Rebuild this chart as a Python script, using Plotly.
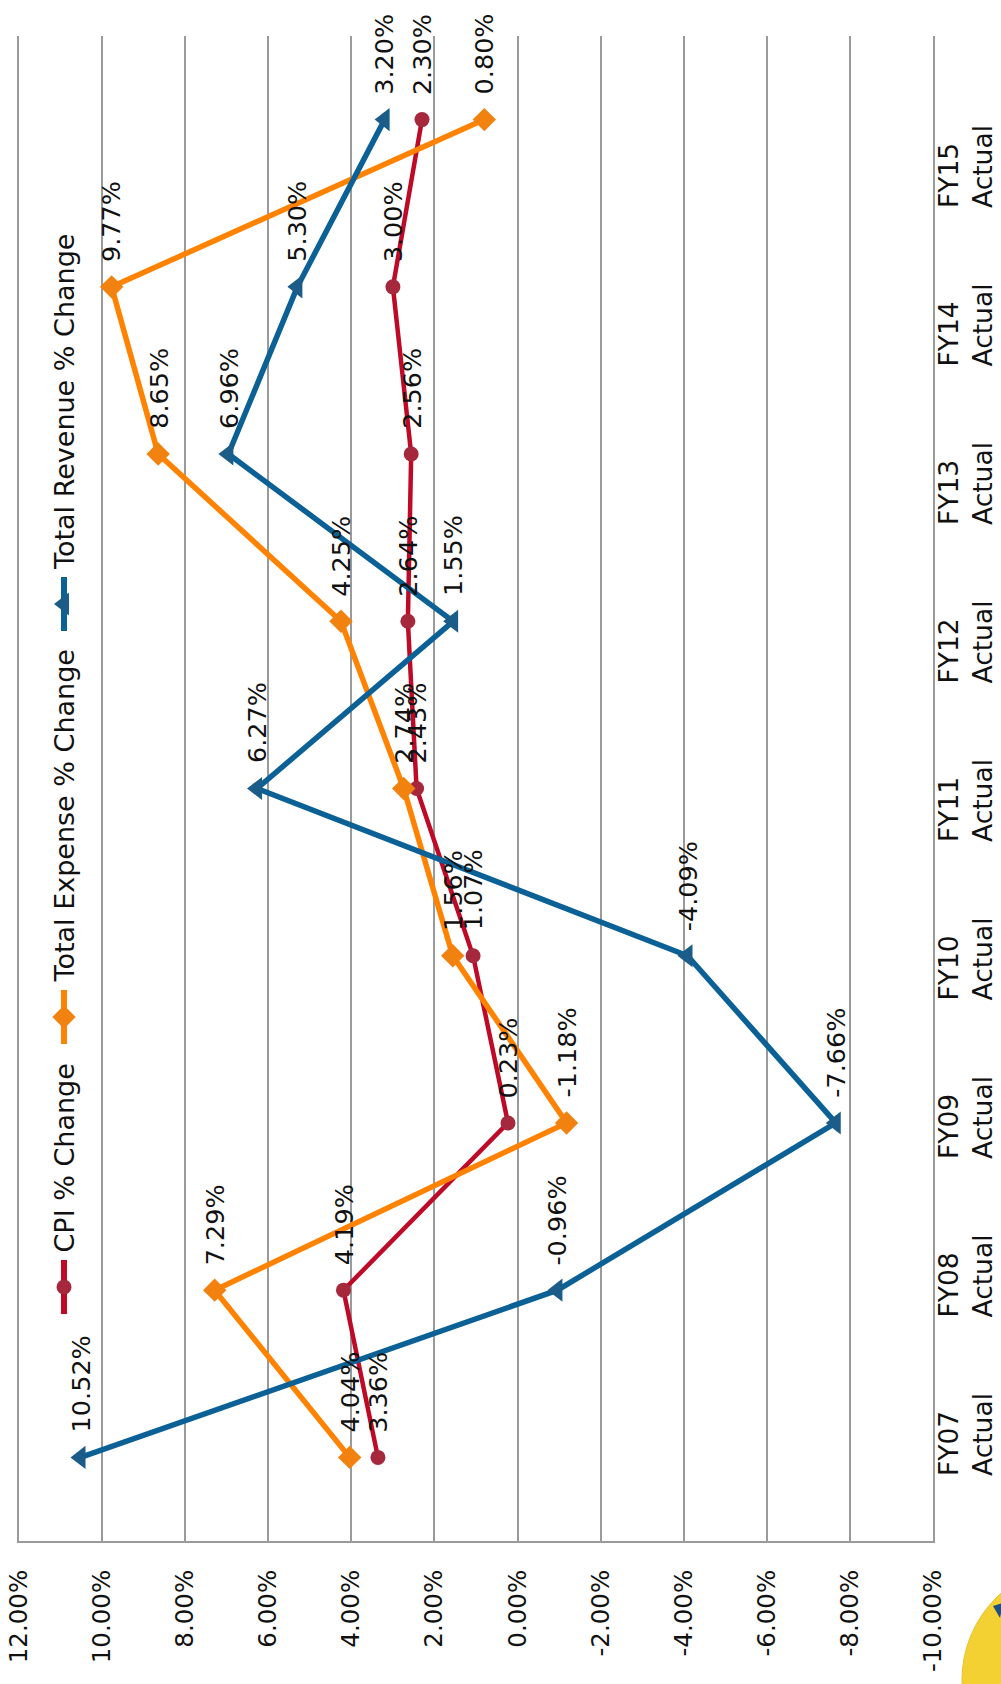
import plotly.graph_objects as go

# Fiscal years (categories, bottom to top) and the three % change series
fiscal_years = ["FY07", "FY08", "FY09", "FY10", "FY11", "FY12", "FY13", "FY14", "FY15"]
category_labels = [f"{fy}<br>Actual" for fy in fiscal_years]

cpi_change = [3.36, 4.19, 0.23, 1.07, 2.43, 2.64, 2.56, 3.00, 2.30]
expense_change = [4.04, 7.29, -1.18, 1.56, 2.74, 4.25, 8.65, 9.77, 0.80]
revenue_change = [10.52, -0.96, -7.66, -4.09, 6.27, 1.55, 6.96, 5.30, 3.20]

value_ticks = [12, 10, 8, 6, 4, 2, 0, -2, -4, -6, -8, -10]
value_tick_labels = [f"{v:.2f}%" for v in value_ticks]

FONT = "DejaVu Sans"
INK = "#111111"
GRID = "#9A9A9A"

series = [
    dict(name="CPI % Change", values=cpi_change, line="#BE0A26", marker="#A6283C",
         symbol="circle", size=15, width=4.5),
    dict(name="Total Expense % Change", values=expense_change, line="#FF8200", marker="#F2820F",
         symbol="diamond", size=18, width=5.5),
    dict(name="Total Revenue % Change", values=revenue_change, line="#0B6196", marker="#1B5C88",
         symbol="triangle-left", size=20, width=5.5),
]

W, H = 1001, 1684
L, R, T, B = 19, 933, 36, 1541


def paper_x(px):
    return (px - L) / (R - L)


def paper_y(py):
    return (B - py) / (B - T)


fig = go.Figure()

for s in series:
    fig.add_trace(go.Scatter(
        x=s["values"], y=fiscal_years, mode="lines+markers",
        line=dict(color=s["line"], width=s["width"]),
        marker=dict(color=s["marker"], symbol=s["symbol"], size=s["size"], line=dict(width=0)),
        showlegend=False, hoverinfo="skip",
    ))

annotations = []

# value labels beside each point, reading upward
for s in series:
    for fy, v in zip(fiscal_years, s["values"]):
        annotations.append(dict(
            x=v, y=fy, xref="x", yref="y", text=f"{v:.2f}%", showarrow=False,
            textangle=-90, xanchor="center", yanchor="bottom", yshift=23,
            font=dict(family=FONT, size=25.5, color=INK),
        ))

# category labels down the right edge, two lines, start-aligned
label_step = 158.5
for i, lab in enumerate(category_labels):
    annotations.append(dict(
        x=paper_x(965), y=paper_y(1434 - i * label_step), xref="paper", yref="paper",
        text=lab, showarrow=False,
        textangle=-90, xanchor="center", yanchor="middle", align="left",
        font=dict(family=FONT, size=26.5, color=INK),
    ))

# vertical legend along the left edge (pixel-coordinate overlay axes)
legend_keys = [
    (series[0], 1287),
    (series[1], 1017),
    (series[2], 604),
]
for s, cy in legend_keys:
    fig.add_trace(go.Scatter(
        x=[64, 64], y=[cy - 27, cy + 27], mode="lines", xaxis="x2", yaxis="y2",
        line=dict(color=s["line"], width=6), showlegend=False, hoverinfo="skip",
    ))
    fig.add_trace(go.Scatter(
        x=[64], y=[cy], mode="markers", xaxis="x2", yaxis="y2",
        marker=dict(color=s["marker"], symbol=s["symbol"], size=s["size"], line=dict(width=0)),
        showlegend=False, hoverinfo="skip",
    ))
    annotations.append(dict(
        x=64, y=cy - 32, xref="x2", yref="y2", text=s["name"], showarrow=False,
        textangle=-90, xanchor="center", yanchor="bottom",
        font=dict(family=FONT, size=27, color=INK),
    ))

# corner emblem, partly cut off by the page edge
shapes = [
    dict(type="circle", xref="paper", yref="paper",
         x0=paper_x(962), x1=paper_x(1194), y0=paper_y(1796), y1=paper_y(1564),
         fillcolor="#F4D133", line=dict(color="#E8C22A", width=1), layer="above"),
    dict(type="path", xref="paper", yref="paper",
         path=(f"M {paper_x(993)} {paper_y(1606)} L {paper_x(1003)} {paper_y(1603)} "
               f"L {paper_x(1000)} {paper_y(1618)} Z"),
         fillcolor="#1B4F86", line=dict(width=0), layer="above"),
]

fig.update_layout(
    width=W, height=H,
    margin=dict(l=L, r=W - R, t=T, b=H - B, pad=0, autoexpand=False),
    paper_bgcolor="white", plot_bgcolor="white",
    font=dict(family=FONT, size=26, color=INK),
    annotations=annotations,
    shapes=shapes,
    xaxis=dict(
        range=[12, -10], tickvals=value_ticks, ticktext=value_tick_labels,
        tickangle=-90, ticks="", ticklabelstandoff=17, automargin=False,
        showgrid=True, gridcolor=GRID, gridwidth=2,
        showline=True, linecolor=GRID, linewidth=2,
        zeroline=False, fixedrange=True,
        tickfont=dict(family=FONT, size=24.5, color=INK),
    ),
    yaxis=dict(
        type="category", categoryorder="array", categoryarray=fiscal_years,
        range=[-0.5, 8.5], showticklabels=False, ticks="", automargin=False,
        showgrid=False, showline=True, mirror=True, linecolor=GRID, linewidth=2,
        zeroline=False, fixedrange=True,
    ),
    xaxis2=dict(range=[L, R], overlaying="x", visible=False, fixedrange=True),
    yaxis2=dict(range=[B, T], overlaying="y", visible=False, fixedrange=True),
)

fig.write_html("out.html")
